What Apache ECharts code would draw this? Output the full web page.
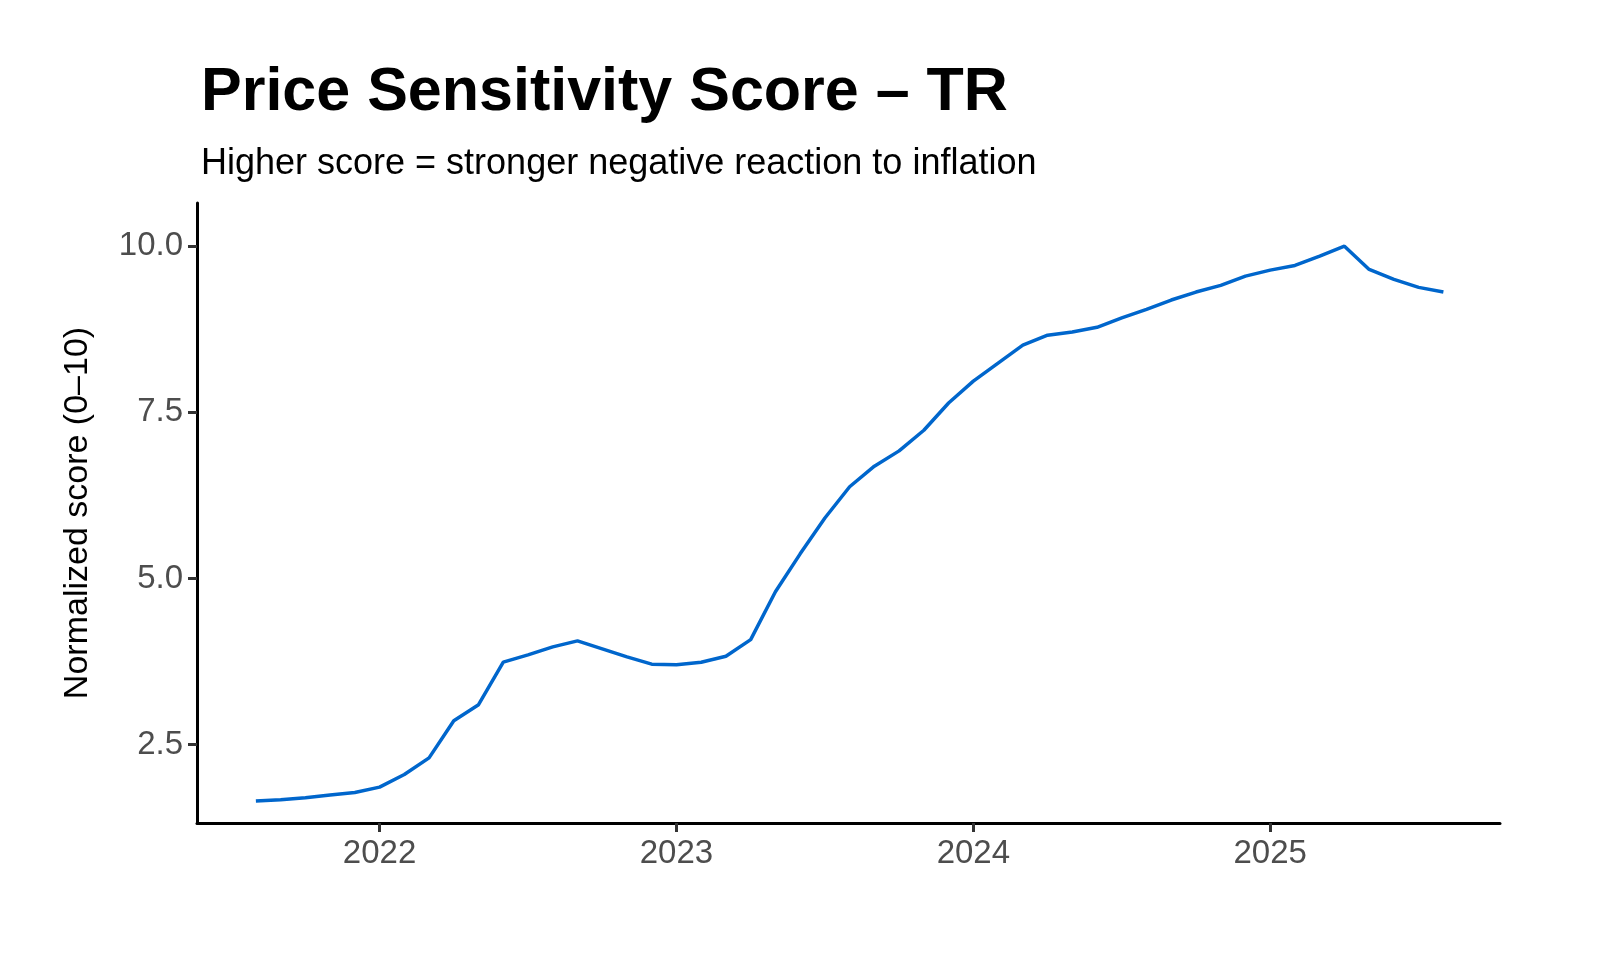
<!DOCTYPE html>
<html><head><meta charset="utf-8">
<script src="https://cdn.jsdelivr.net/npm/echarts@6/dist/echarts.min.js"></script>
<style>html,body{margin:0;background:#fff}#c{width:1600px;height:960px}</style>
</head><body><div id="c"></div>
<script>
const startYear = 2021, startMonth = 8;
const values = [1.65,1.67,1.70,1.74,1.78,1.86,2.05,2.30,2.86,3.10,3.74,3.85,3.97,4.06,3.94,3.82,3.71,3.70,3.74,3.83,4.08,4.80,5.37,5.91,6.38,6.69,6.92,7.23,7.64,7.97,8.24,8.51,8.66,8.71,8.78,8.92,9.05,9.19,9.31,9.41,9.55,9.64,9.71,9.85,10.0,9.65,9.50,9.38,9.31];
const xTicks = [2022,2023,2024,2025];
const yTicks = [2.5,5.0,7.5,10.0];
const data = values.map((v,i)=>[startYear + (startMonth-1+i)/12, v]);
const chart = echarts.init(document.getElementById('c'));
const font = 'Liberation Sans, Arial, sans-serif';
chart.setOption({
  animation:false,
  textStyle:{fontFamily:font},
  title:{text:'Price Sensitivity Score – TR', subtext:'Higher score = stronger negative reaction to inflation',
    left:196, top:58, itemGap:22,
    textStyle:{fontSize:61,fontWeight:'bold',color:'#000',fontFamily:font},
    subtextStyle:{fontSize:36,color:'#000',fontFamily:font}},
  grid:{left:197,right:100,top:203,bottom:137},
  xAxis:{type:'value',min:2021.385,max:2025.774,
    axisLine:{show:true,lineStyle:{color:'#000',width:3}},
    splitLine:{show:false},
    axisTick:{show:true,customValues:xTicks,length:9,lineStyle:{color:'#333',width:3}},
    axisLabel:{customValues:xTicks,fontSize:33,color:'#4d4d4d',margin:14,formatter:v=>String(Math.round(v))}},
  yAxis:{type:'value',min:1.32,max:10.65,name:'Normalized score (0–10)',nameLocation:'middle',nameGap:102,
    nameTextStyle:{fontSize:34,color:'#000'},
    axisLine:{show:true,lineStyle:{color:'#000',width:3}},
    splitLine:{show:false},
    axisTick:{show:true,customValues:yTicks,length:9,lineStyle:{color:'#333',width:3}},
    axisLabel:{customValues:yTicks,fontSize:33,color:'#4d4d4d',margin:14,formatter:v=>v.toFixed(1)}},
  series:[{type:'line',data:data,showSymbol:false,lineStyle:{color:'#0066cc',width:3.5}}]
});
</script></body></html>
